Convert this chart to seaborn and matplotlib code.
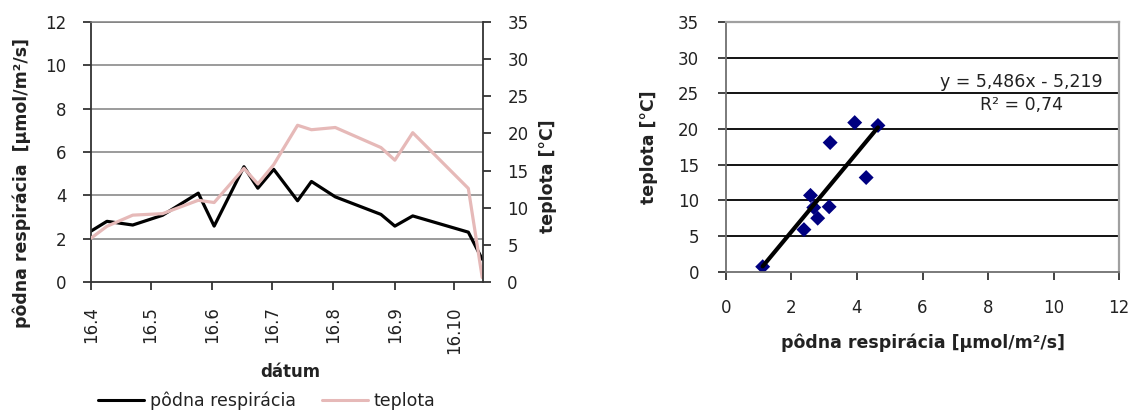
import numpy as np
import pandas as pd
import matplotlib
matplotlib.use("Agg")
import matplotlib.pyplot as plt
import seaborn as sns
from matplotlib.lines import Line2D

# ---------------- data ----------------
dates = ["2000-04-16", "2000-04-24", "2000-05-07", "2000-05-22", "2000-06-09",
         "2000-06-17", "2000-07-02", "2000-07-09", "2000-07-17", "2000-07-29",
         "2000-08-05", "2000-08-17", "2000-09-09", "2000-09-16", "2000-09-25",
         "2000-10-23", "2000-10-30"]
respiration = [2.35, 2.80, 2.63, 3.08, 4.10, 2.58, 5.32, 4.33, 5.20, 3.75,
               4.64, 3.93, 3.12, 2.58, 3.05, 2.30, 1.05]
temperature = [5.9, 7.5, 9.0, 9.2, 11.0, 10.7, 15.3, 13.2, 15.8, 21.1,
               20.5, 20.8, 18.1, 16.4, 20.1, 12.6, 0.6]
tick_dates = ["2000-04-16", "2000-05-16", "2000-06-16", "2000-07-16",
              "2000-08-16", "2000-09-16", "2000-10-16"]
tick_labels = ["16.4", "16.5", "16.6", "16.7", "16.8", "16.9", "16.10"]

scatter_resp = [1.12, 2.38, 2.58, 2.68, 2.80, 3.15, 3.18, 3.93, 4.28, 4.64]
scatter_temp = [0.7, 5.9, 10.7, 9.0, 7.5, 9.1, 18.1, 20.9, 13.2, 20.5]

series_names = ["pôdna respirácia", "teplota"]
equation_text = "y = 5,486x - 5,219"
r2_text = "R² = 0,74"

# ---------------- style ----------------
sns.set_theme(style="white")
plt.rcParams["font.family"] = ["DejaVu Sans"]

BLACK = "black"
PINK = "#E6B9B8"
NAVY = "#000080"
TXT = "#222222"

fig = plt.figure(figsize=(11.31, 4.13), dpi=100)
ax = fig.add_axes([0.0805, 0.3172, 0.3466, 0.6295])
ax2 = ax.twinx()
axs = fig.add_axes([0.6419, 0.3421, 0.3475, 0.6046])

df = pd.DataFrame({"datum": pd.to_datetime(dates),
                   "resp": respiration,
                   "temp": temperature})

sns.lineplot(data=df, x="datum", y="resp", ax=ax, color=BLACK, lw=2.3)
sns.lineplot(data=df, x="datum", y="temp", ax=ax2, color=PINK, lw=2.3)

ax.set_xlim(df["datum"].iloc[0], df["datum"].iloc[-1] + pd.Timedelta(hours=10))
ax.set_ylim(0, 12)
ax2.set_ylim(0, 35)
ax.set_yticks(np.arange(0, 13, 2))
ax2.set_yticks(np.arange(0, 36, 5))
ax.set_xticks(pd.to_datetime(tick_dates))
ax.set_xticklabels(tick_labels, rotation=90)

ax.yaxis.grid(True, color="#808080", lw=1.1)
ax.xaxis.grid(False)
ax.set_axisbelow(True)
for gl, v in zip(ax.get_ygridlines(), ax.get_yticks()):
    if v == 0:
        gl.set_visible(False)

ax.spines["top"].set_color("#808080")
ax.spines["top"].set_linewidth(1.1)
ax.spines["right"].set_visible(False)
for s in ["left", "bottom"]:
    ax.spines[s].set_color("#333333")
    ax.spines[s].set_linewidth(1.3)
for s in ["left", "top", "bottom"]:
    ax2.spines[s].set_visible(False)
ax2.spines["right"].set_color("#333333")
ax2.spines["right"].set_linewidth(1.3)

ax.tick_params(axis="both", direction="out", length=5.5, width=1.3,
               color="#333333", labelsize=12, labelcolor=TXT, pad=12,
               left=True, bottom=True)
ax2.tick_params(axis="y", direction="out", length=5.5, width=1.3,
                color="#333333", labelsize=12, labelcolor=TXT, pad=12, right=True)

ax.set_xlabel("dátum", fontsize=12, fontweight="bold", color=TXT, va="center")
ax.set_ylabel("pôdna respirácia  [µmol/m²/s]", fontsize=12.5, fontweight="bold",
              color=TXT, va="center")
ax2.set_ylabel("teplota [°C]", fontsize=12.5, fontweight="bold", color=TXT,
               va="center")
ax.xaxis.set_label_coords(0.508, -0.346)
ax.yaxis.set_label_coords(-0.176, 0.381)
ax2.yaxis.set_label_coords(1.166, 0.408)

handles = [Line2D([], [], color=BLACK, lw=2.2), Line2D([], [], color=PINK, lw=2.2)]
fig.legend(handles, series_names, loc="center", bbox_to_anchor=(0.236, 0.03),
           ncol=2, frameon=False, fontsize=12.5, handlelength=2.65,
           handletextpad=0.35, columnspacing=1.45, labelcolor=TXT,
           borderpad=0.2)

# ---------------- scatter ----------------
sns.regplot(x=scatter_resp, y=scatter_temp, ax=axs, ci=None, marker="D",
            color=NAVY,
            scatter_kws=dict(s=58, color=NAVY, edgecolors="none", alpha=1,
                             zorder=2),
            line_kws=dict(color=BLACK, lw=3.0, zorder=3))
axs.set_xlim(0, 12)
axs.set_ylim(0, 35)
axs.set_xticks(np.arange(0, 13, 2))
axs.set_yticks(np.arange(0, 36, 5))
axs.yaxis.grid(True, color="black", lw=1.3)
axs.xaxis.grid(False)
axs.set_axisbelow(True)
for gl, v in zip(axs.get_ygridlines(), axs.get_yticks()):
    if v in (0, 35):
        gl.set_visible(False)
for s in ["left", "bottom"]:
    axs.spines[s].set_color("#707070")
    axs.spines[s].set_linewidth(1.3)
for s in ["top", "right"]:
    axs.spines[s].set_color("#A0A0A0")
    axs.spines[s].set_linewidth(1.6)
axs.tick_params(axis="both", direction="out", length=5.5, width=1.3,
                color="#333333", labelsize=12, labelcolor=TXT, pad=14,
                left=True, bottom=True)
axs.set_xlabel("pôdna respirácia [µmol/m²/s]", fontsize=12.5, fontweight="bold",
               color=TXT, va="center")
axs.set_ylabel("teplota [°C]", fontsize=12.5, fontweight="bold", color=TXT,
               va="center")
axs.xaxis.set_label_coords(0.5, -0.285)
axs.yaxis.set_label_coords(-0.196, 0.499)

axs.text(0.751, 0.759, equation_text, transform=axs.transAxes, ha="center",
         va="center", fontsize=12.5, color=TXT)
axs.text(0.751, 0.667, r2_text, transform=axs.transAxes, ha="center",
         va="center", fontsize=12.5, color=TXT)

fig.savefig("out.png", dpi=100)
